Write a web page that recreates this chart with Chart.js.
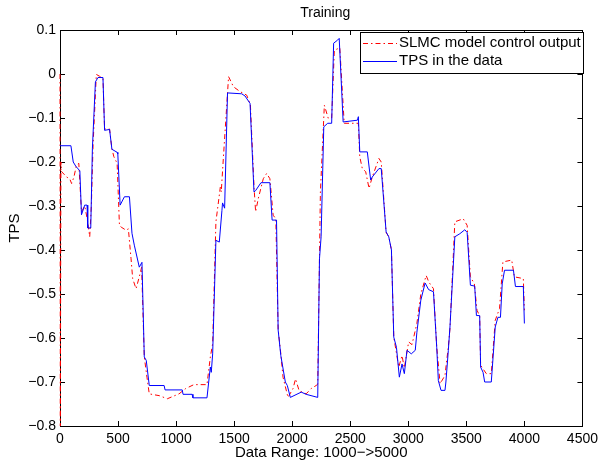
<!DOCTYPE html>
<html>
<head>
<meta charset="utf-8">
<script src="https://cdn.jsdelivr.net/npm/chart.js@4"></script>
<style>
  html, body { margin: 0; padding: 0; background: #fff; }
  #wrap { width: 603px; height: 466px; }
</style>
</head>
<body>
<div id="wrap"><canvas id="chart" width="603" height="466"></canvas></div>
<script>
// --- DATA ---
const tpsX = [0, 94, 114, 137, 171, 185, 213, 233, 239, 265, 279, 305, 327, 370, 384, 427, 447, 492, 498, 518,
  555, 598, 620, 640, 683, 706, 726, 743, 769, 897, 905, 1053, 1060, 1138, 1145, 1266, 1295, 1303, 1315, 1343,
  1372, 1395, 1400, 1418, 1443, 1565, 1594, 1637, 1671, 1685, 1731, 1808, 1827, 1865, 1879, 1902, 1941, 1958, 1984, 2078,
  2120, 2220, 2235, 2249, 2272, 2306, 2340, 2357, 2391, 2405, 2439, 2562, 2570, 2582, 2647, 2676, 2690, 2747, 2767, 2809,
  2832, 2855, 2875, 2898, 2923, 2946, 2966, 2989, 3026, 3060, 3074, 3108, 3145, 3175, 3217, 3245, 3259, 3282, 3316, 3324,
  3345, 3359, 3401, 3444, 3487, 3507, 3535, 3572, 3587, 3615, 3623, 3644, 3658, 3715, 3749, 3772, 3794, 3809, 3829, 3906,
  3923, 3991, 4000];
const tpsY = [-0.163, -0.163, -0.2, -0.21, -0.22, -0.32, -0.298, -0.298, -0.35, -0.35, -0.17, -0.018, -0.008, -0.008, -0.128, -0.126, -0.171, -0.178, -0.182, -0.298,
  -0.279, -0.279, -0.362, -0.389, -0.439, -0.428, -0.643, -0.651, -0.708, -0.708, -0.718, -0.718, -0.728, -0.728, -0.736, -0.736, -0.666, -0.678, -0.636, -0.378,
  -0.382, -0.31, -0.293, -0.305, -0.043, -0.045, -0.05, -0.067, -0.268, -0.265, -0.247, -0.247, -0.332, -0.332, -0.582, -0.64, -0.7, -0.708, -0.735, -0.723,
  -0.728, -0.735, -0.42, -0.37, -0.12, -0.112, -0.112, 0.07, 0.077, 0.081, -0.109, -0.105, -0.097, -0.177, -0.177, -0.241, -0.234, -0.215, -0.215, -0.359,
  -0.37, -0.4, -0.598, -0.621, -0.689, -0.659, -0.681, -0.628, -0.636, -0.628, -0.587, -0.514, -0.475, -0.49, -0.495, -0.621, -0.697, -0.719, -0.719, -0.7,
  -0.628, -0.575, -0.37, -0.363, -0.354, -0.36, -0.48, -0.482, -0.549, -0.549, -0.666, -0.678, -0.7, -0.7, -0.575, -0.553, -0.553, -0.477, -0.446, -0.446,
  -0.483, -0.483, -0.567];

const slmcX = [0, 3, 8, 14, 57, 85, 100, 120, 142, 162, 185, 213, 235, 256, 270, 285, 313, 340, 370, 384,
  427, 447, 464, 492, 512, 527, 569, 589, 612, 626, 655, 683, 703, 726, 749, 769, 854, 925, 1025, 1082,
  1153, 1266, 1295, 1315, 1343, 1381, 1389, 1405, 1452, 1494, 1551, 1608, 1640, 1672, 1685, 1708, 1751, 1780, 1808, 1836,
  1859, 1879, 1902, 1921, 1964, 2007, 2029, 2060, 2120, 2163, 2206, 2220, 2235, 2243, 2277, 2311, 2340, 2363, 2397, 2410,
  2448, 2570, 2582, 2604, 2633, 2662, 2690, 2747, 2767, 2809, 2832, 2855, 2875, 2918, 2946, 2966, 3003, 3032, 3074, 3108,
  3154, 3177, 3217, 3245, 3274, 3316, 3345, 3359, 3401, 3473, 3507, 3535, 3569, 3592, 3615, 3623, 3672, 3715, 3749, 3786,
  3815, 3891, 3914, 3991, 4000];
const slmcY = [0.0, -0.8, -0.2, -0.222, -0.234, -0.239, -0.249, -0.234, -0.207, -0.203, -0.313, -0.3, -0.33, -0.37, -0.3, -0.16, -0.001, -0.005, -0.01, -0.125,
  -0.125, -0.17, -0.188, -0.203, -0.344, -0.348, -0.355, -0.352, -0.42, -0.465, -0.488, -0.461, -0.439, -0.643, -0.689, -0.727, -0.731, -0.738, -0.727, -0.715,
  -0.706, -0.706, -0.643, -0.613, -0.336, -0.257, -0.268, -0.2, -0.006, -0.029, -0.04, -0.048, -0.07, -0.26, -0.313, -0.283, -0.238, -0.226, -0.238, -0.321,
  -0.329, -0.58, -0.636, -0.689, -0.735, -0.715, -0.693, -0.72, -0.727, -0.715, -0.708, -0.705, -0.42, -0.268, -0.071, -0.101, -0.1, 0.054, 0.058, 0.06,
  -0.112, -0.112, -0.188, -0.215, -0.222, -0.26, -0.234, -0.192, -0.2, -0.36, -0.37, -0.4, -0.598, -0.666, -0.64, -0.668, -0.609, -0.615, -0.567, -0.5,
  -0.458, -0.473, -0.488, -0.62, -0.704, -0.685, -0.62, -0.579, -0.336, -0.329, -0.344, -0.461, -0.477, -0.537, -0.55, -0.662, -0.681, -0.681, -0.56, -0.533,
  -0.427, -0.423, -0.461, -0.465, -0.537];

const xTicks = [0, 500, 1000, 1500, 2000, 2500, 3000, 3500, 4000, 4500];
const yTicks = [0.1, 0, -0.1, -0.2, -0.3, -0.4, -0.5, -0.6, -0.7, -0.8];

const seriesNames = ['SLMC model control output', 'TPS in the data'];

const FONT = "'Liberation Sans', Arial, Helvetica, sans-serif";

function toPoints(xs, ys) {
    return xs.map((x, i) => ({ x: x, y: ys[i] }));
}

// --- MATLAB style frame (under the data), inward ticks ---
const framePlugin = {
    id: 'frame',
    beforeDatasetsDraw(chart) {
        const { ctx, chartArea: a, scales: { x, y } } = chart;
        ctx.save();
        ctx.strokeStyle = '#000';
        ctx.lineWidth = 1;
        ctx.strokeRect(Math.round(a.left) + 0.5, Math.round(a.top) + 0.5,
            Math.round(a.right - a.left), Math.round(a.bottom - a.top));
        ctx.beginPath();
        xTicks.forEach(v => {
            const px = Math.round(x.getPixelForValue(v)) + 0.5;
            ctx.moveTo(px, a.bottom); ctx.lineTo(px, a.bottom - 5);
            ctx.moveTo(px, a.top); ctx.lineTo(px, a.top + 5);
        });
        yTicks.forEach(v => {
            const py = Math.round(y.getPixelForValue(v)) + 0.5;
            ctx.moveTo(a.left, py); ctx.lineTo(a.left + 5, py);
            ctx.moveTo(a.right, py); ctx.lineTo(a.right - 5, py);
        });
        ctx.stroke();
        ctx.restore();
    },
    // title and legend on top
    afterDatasetsDraw(chart) {
        const { ctx, chartArea: a } = chart;
        ctx.save();
        ctx.fillStyle = '#000';
        ctx.font = '14px ' + FONT;
        ctx.textAlign = 'center';
        ctx.textBaseline = 'middle';
        ctx.fillText('Training', (a.left + a.right) / 2 + 4, 13);

        const bx = 360, by = 32, bw = 223, bh = 41;
        ctx.fillStyle = '#fff';
        ctx.fillRect(bx, by, bw, bh);
        ctx.strokeStyle = '#000';
        ctx.lineWidth = 1;
        ctx.strokeRect(bx + 0.5, by + 0.5, bw, bh);
        ctx.font = '15px ' + FONT;
        const rows = [
            { name: seriesNames[0], color: '#ff0000', dash: [5, 3, 1.5, 3], y: 43 },
            { name: seriesNames[1], color: '#0000ff', dash: [], y: 61 }
        ];
        rows.forEach(r => {
            ctx.beginPath();
            ctx.setLineDash(r.dash);
            ctx.strokeStyle = r.color;
            ctx.moveTo(363, r.y + 0.5);
            ctx.lineTo(397, r.y + 0.5);
            ctx.stroke();
            ctx.setLineDash([]);
            ctx.fillStyle = '#000';
            ctx.textAlign = 'left';
            ctx.fillText(r.name, 399, r.y);
        });
        ctx.restore();
    }
};

const ctx = document.getElementById('chart').getContext('2d');
const chart = new Chart(ctx, {
    type: 'line',
    data: {
        datasets: [
            {
                label: seriesNames[1],
                data: toPoints(tpsX, tpsY),
                borderColor: '#0000ff',
                borderWidth: 1,
                pointRadius: 0,
                tension: 0,
                order: 0
            },
            {
                label: seriesNames[0],
                data: toPoints(slmcX, slmcY),
                borderColor: '#ff0000',
                borderWidth: 1,
                borderDash: [5, 3, 1.5, 3],
                pointRadius: 0,
                tension: 0,
                clip: false,
                order: 1
            }
        ]
    },
    options: {
        responsive: false,
        devicePixelRatio: 1,
        animation: false,
        layout: { padding: { top: 30, right: 16, left: 0, bottom: 0 } },
        plugins: {
            legend: { display: false },
            tooltip: { enabled: false }
        },
        scales: {
            x: {
                type: 'linear',
                min: 0,
                max: 4500,
                afterFit: s => { s.height = 40; },
                afterBuildTicks: s => { s.ticks = xTicks.map(v => ({ value: v })); },
                grid: { display: false, drawTicks: false },
                border: { display: false },
                ticks: {
                    color: '#000',
                    padding: 5,
                    maxRotation: 0,
                    font: { family: FONT, size: 14 },
                    callback: v => String(v)
                },
                title: { display: true, text: 'Data Range: 1000−>5000', color: '#000', padding: { top: 0, bottom: 4 }, font: { family: FONT, size: 15 } }
            },
            y: {
                min: -0.8,
                max: 0.1,
                afterFit: s => { s.width = 60; },
                afterBuildTicks: s => { s.ticks = yTicks.map(v => ({ value: v })); },
                grid: { display: false, drawTicks: false },
                border: { display: false },
                ticks: {
                    color: '#000',
                    padding: 4,
                    font: { family: FONT, size: 14 },
                    callback: v => String(Number(v.toFixed(1))).replace('-', '\u2212')
                },
                title: { display: true, text: 'TPS', color: '#000', padding: { top: 6, bottom: 0 }, font: { family: FONT, size: 15 } }
            }
        }
    },
    plugins: [framePlugin]
});
</script>
</body>
</html>
